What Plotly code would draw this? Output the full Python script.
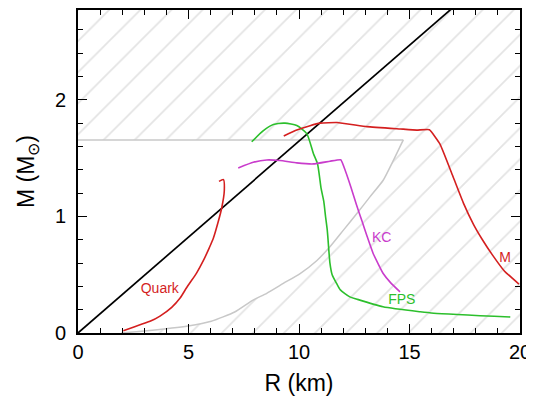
import plotly.graph_objects as go

# Axis ranges
x_range = [0, 20]
y_range = [0, 2.77]

# Black reference line M = k R
line_r = [0, 20]
line_m = [0, 3.29]

# Allowed (white) region boundary: lower gray curve and upper mass limit
bound_r = [1.96, 3.0, 4.98, 6.03, 7.09, 7.9, 8.54, 9.29, 10.05, 10.8, 11.4, 12.0, 12.6, 13.2, 13.81, 14.27, 14.72]
bound_m = [0.0, 0.017, 0.06, 0.10, 0.18, 0.28, 0.34, 0.425, 0.51, 0.62, 0.74, 0.88, 1.02, 1.165, 1.31, 1.48, 1.656]
mmax_limit = 1.656

# Mass-radius curves
quark_r = [2.05, 2.5, 3.26, 3.71, 4.24, 4.62, 4.92, 5.37, 5.67, 5.94, 6.12, 6.35, 6.5, 6.62, 6.58, 6.38]
quark_m = [0.02, 0.05, 0.10, 0.145, 0.22, 0.30, 0.39, 0.516, 0.62, 0.73, 0.81, 0.958, 1.07, 1.22, 1.315, 1.30]

fps_r = [7.86, 8.39, 8.84, 9.37, 9.9, 10.35, 10.65, 10.84, 11.0, 11.12, 11.2, 11.28, 11.4, 11.5, 11.7, 11.87, 12.3, 12.62, 13.8, 15.48, 16.1, 19.56]
fps_m = [1.64, 1.735, 1.787, 1.80, 1.78, 1.71, 1.54, 1.45, 1.24, 1.13, 1.0, 0.88, 0.60, 0.50, 0.425, 0.37, 0.31, 0.29, 0.225, 0.182, 0.17, 0.137]

kc_r = [7.25, 7.93, 8.54, 9.14, 9.9, 10.65, 11.4, 11.89, 12.1, 12.35, 12.6, 12.85, 13.08, 13.36, 13.81, 14.15, 14.57]
kc_m = [1.416, 1.464, 1.484, 1.479, 1.459, 1.45, 1.473, 1.486, 1.39, 1.25, 1.10, 0.96, 0.83, 0.68, 0.51, 0.43, 0.353]

m_r = [9.31, 9.9, 10.5, 10.96, 11.72, 13.08, 14.58, 15.33, 15.9, 16.38, 16.98, 17.45, 17.9, 18.3, 18.75, 19.3, 19.95]
m_m = [1.69, 1.74, 1.778, 1.80, 1.805, 1.77, 1.75, 1.74, 1.743, 1.62, 1.336, 1.11, 0.93, 0.80, 0.67, 0.53, 0.42]

# Curve labels
labels = ["Quark", "KC", "FPS", "M"]
label_r = [3.70, 13.74, 14.65, 19.32]
label_m = [0.376, 0.81, 0.276, 0.638]

RED = "#d41f1f"
GREEN = "#2cbf2c"
MAGENTA = "#c93ccc"
GRAY = "#c8c8c8"
label_colors = [RED, MAGENTA, GREEN, RED]
FONT = "Liberation Sans, Arial, sans-serif"

fig = go.Figure()

# Hatched background (whole plot area)
fig.add_trace(go.Scatter(
    x=[x_range[0], x_range[1], x_range[1], x_range[0], x_range[0]],
    y=[y_range[0], y_range[0], y_range[1], y_range[1], y_range[0]],
    mode="lines", line=dict(width=0), fill="toself", fillcolor="white",
    fillpattern=dict(shape="/", size=22, solidity=0.08, fgcolor=GRAY, bgcolor="white"),
    hoverinfo="skip", showlegend=False))

# White allowed region
white_x = [0] + bound_r + [0, 0]
white_y = [0] + bound_m + [mmax_limit, 0]
fig.add_trace(go.Scatter(
    x=white_x, y=white_y, mode="lines", line=dict(width=0),
    fill="toself", fillcolor="white", hoverinfo="skip", showlegend=False))

# Gray boundary lines
fig.add_trace(go.Scatter(x=bound_r, y=bound_m, mode="lines",
                         line=dict(color=GRAY, width=1.5, shape="spline", smoothing=0.5), showlegend=False))
fig.add_trace(go.Scatter(x=[0, bound_r[-1]], y=[mmax_limit, mmax_limit], mode="lines",
                         line=dict(color=GRAY, width=1.5), showlegend=False))

# Black line
fig.add_trace(go.Scatter(x=line_r, y=line_m, mode="lines",
                         line=dict(color="black", width=1.7), showlegend=False))

# Curves
for xs, ys, c, sm in [(quark_r, quark_m, RED, 0.6), (fps_r, fps_m, GREEN, 0.6),
                      (kc_r, kc_m, MAGENTA, 0.35), (m_r, m_m, RED, 0.35)]:
    fig.add_trace(go.Scatter(x=xs, y=ys, mode="lines",
                             line=dict(color=c, width=1.6, shape="spline", smoothing=sm),
                             showlegend=False))

# Labels
fig.add_trace(go.Scatter(
    x=label_r, y=label_m, mode="text", text=labels,
    textfont=dict(family=FONT, size=14, color=label_colors),
    showlegend=False))

axis_common = dict(
    showline=True, linecolor="black", linewidth=1.6, mirror="allticks",
    ticks="inside", ticklen=9, tickwidth=1.4, tickcolor="black",
    showgrid=False, zeroline=False, automargin=False,
    tickfont=dict(family=FONT, size=20, color="black"),
)

fig.update_xaxes(range=x_range, tickvals=[0, 5, 10, 15, 20],
                 minor=dict(dtick=1, ticks="inside", ticklen=5, tickwidth=1.2, tickcolor="black", showgrid=False),
                 title=dict(text="R (km)", font=dict(family=FONT, size=23, color="black"), standoff=13),
                 **axis_common)
fig.update_yaxes(range=y_range, tickvals=[0, 1, 2],
                 minor=dict(dtick=0.2, ticks="inside", ticklen=5, tickwidth=1.2, tickcolor="black", showgrid=False),
                 title=dict(text="M (M<sub>⊙</sub>)", font=dict(family=FONT, size=23, color="black"), standoff=14),
                 ticklabelstandoff=6,
                 **axis_common)

# Page body adds an 8px margin, so the figure is sized to fit inside it
fig.update_layout(
    width=526, height=394,
    margin=dict(l=70, r=14, t=2, b=69),
    plot_bgcolor="white", paper_bgcolor="white",
    showlegend=False,
)

fig.write_html("out.html")
